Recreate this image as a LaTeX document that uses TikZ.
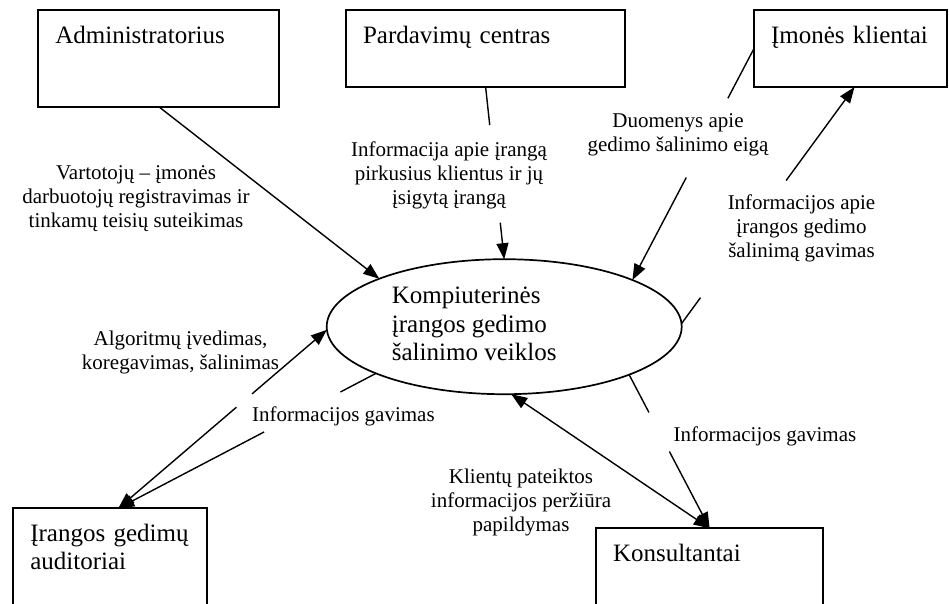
\documentclass[tikz,border=0pt]{standalone}
\usepackage{fontspec}
\setmainfont{Liberation Serif}
\usetikzlibrary{shapes.geometric, arrows.meta, calc}
\newcommand\bxfont{\fontsize{25}{28.5}\selectfont}
\newcommand\lblfont{\fontsize{21}{24}\selectfont}

\begin{document}
\begin{tikzpicture}[x=1pt, y=-1pt,
  entity/.style={draw, line width=1.8pt, rectangle, anchor=north west,
    inner xsep=17pt, inner ysep=0pt, outer sep=0pt, align=left,
    text height=33pt, font=\bxfont},
  process/.style={draw, line width=1.7pt, ellipse, inner sep=0pt, outer sep=0pt,
    minimum width=355pt, minimum height=135pt, font=\bxfont},
  flowlabel/.style={align=center, inner sep=0pt, font=\lblfont},
  conn/.style={line width=1.4pt},
  tip/.style={-{Triangle[length=16pt,width=12pt]}},
  tipstart/.style={{Triangle[length=16pt,width=12pt]}-},
  tips/.style={{Triangle[length=16pt,width=12pt]}-{Triangle[length=16pt,width=12pt]}},
]
\useasboundingbox (0,0) rectangle (949,603);
\fill[white] (0,0) rectangle (949,603);

% external entities
\node[entity, text width=207pt, text depth=63.7pt] (admin) at (38.3,10) {Administratorius};
\node[entity, text width=245.3pt, text depth=44.3pt] (pard) at (346,10) {Pardavimų centras};
\node[entity, text width=159pt, text depth=44pt] (klient) at (754,10) {Įmonės klientai};
\node[entity, text width=160pt, text depth=77pt] (audit) at (13.3,508.3) {Įrangos gedimų\\auditoriai};
\node[entity, text width=193.3pt, text depth=57pt] (konsult) at (596,528.3) {Konsultantai};

% central process
\node[process] (proc) at (504.2,326.7)
  {\begin{tabular}{@{}l@{}}Kompiuterinės\\įrangos gedimo\\šalinimo veiklos\end{tabular}\hspace*{60pt}};

% flow labels
\node[flowlabel] (lAdmin) at (136,199) {Vartotojų – įmonės\\darbuotojų registravimas ir\\tinkamų teisių suteikimas};
\node[flowlabel] (lPard) at (449,175) {Informacija apie įrangą\\pirkusius klientus ir jų\\įsigytą įrangą};
\node[flowlabel] (lDuom) at (678,135) {Duomenys apie\\gedimo šalinimo eigą};
\node[flowlabel] (lInfoK) at (801.5,228) {Informacijos apie\\įrangos gedimo\\šalinimą gavimas};
\node[flowlabel] (lAlgo) at (180.5,352) {Algoritmų įvedimas,\\koregavimas, šalinimas};
\node[flowlabel] (lGavA) at (343.4,416) {Informacijos gavimas};
\node[flowlabel] (lGavK) at (765,436) {Informacijos gavimas};
\node[flowlabel] (lKlient) at (521,502) {Klientų pateiktos\\informacijos peržiūra\\papildymas};

% connector end points and breaks around the labels
\coordinate (kIn) at ($(klient.south)+(4,0)$);
\coordinate (aTip) at ($(audit.north)+(8,0)$);
\coordinate (b1) at ($(pard.south)!0.22!(proc.90)$);
\coordinate (b2) at ($(pard.south)!0.787!(proc.90)$);
\coordinate (c1) at ($(klient.west)!0.2148!(proc.20.5)$);
\coordinate (c2) at ($(klient.west)!0.5575!(proc.20.5)$);
\coordinate (d1) at ($(proc.1)!0.1097!(kIn)$);
\coordinate (d2) at ($(proc.1)!0.6046!(kIn)$);
\coordinate (e1) at ($(proc.339.3)!0.246!(konsult.north)$);
\coordinate (e2) at ($(proc.339.3)!0.50!(konsult.north)$);
\coordinate (g1) at ($(aTip)!0.566!(proc.181)$);
\coordinate (g2) at ($(aTip)!0.641!(proc.181)$);
\coordinate (h1) at ($(proc.200.7)!0.138!(aTip)$);
\coordinate (h2) at ($(proc.200.7)!0.434!(aTip)$);

% flows
\draw[conn, tip] (admin.south) -- (proc.159);
\draw[conn] (pard.south) -- (b1);
\draw[conn, tip] (b2) -- (proc.90);
\draw[conn] (klient.west) -- (c1);
\draw[conn, tip] (c2) -- (proc.20.5);
\draw[conn] (proc.1) -- (d1);
\draw[conn, tip] (d2) -- (kIn);
\draw[conn] (proc.339.3) -- (e1);
\draw[conn, tip] (e2) -- (konsult.north);
\draw[conn, tips] (proc.276) -- (konsult.north);
\draw[conn, tipstart] (aTip) -- (g1);
\draw[conn, tip] (g2) -- (proc.181);
\draw[conn] (proc.200.7) -- (h1);
\draw[conn, tip] (h2) -- (aTip);
\end{tikzpicture}
\end{document}
